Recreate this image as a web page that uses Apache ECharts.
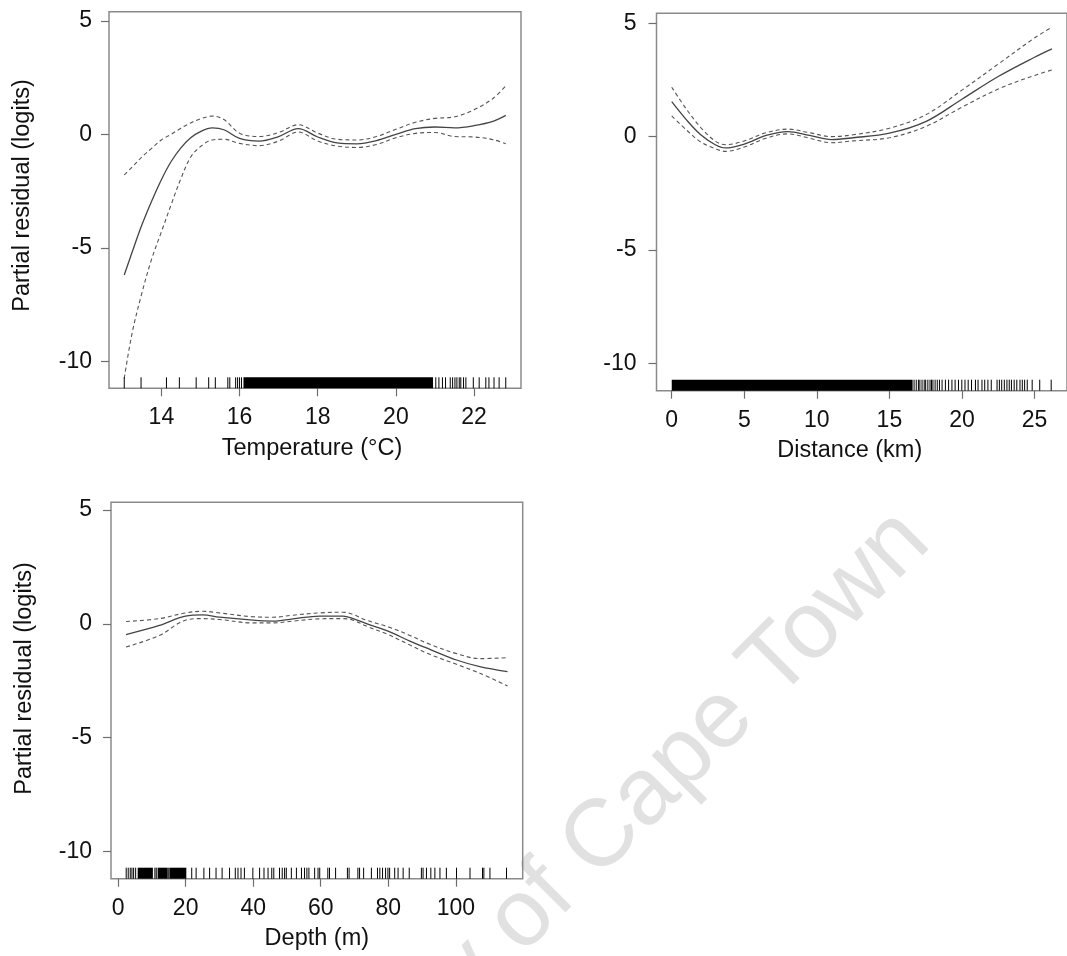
<!DOCTYPE html>
<html><head><meta charset="utf-8">
<script src="https://cdn.jsdelivr.net/npm/echarts@6/dist/echarts.min.js"></script>
<style>html,body{margin:0;padding:0;background:#fff}#chart{width:1067px;height:956px}</style>
</head><body><div id="chart"></div>
<script>
// ---------- Panel 1: Temperature ----------
const tempX     = [13.05, 13.25, 13.5, 13.75, 14.0, 14.25, 14.5, 14.75, 15.0, 15.3, 15.6, 16.0, 16.5, 17.0, 17.5, 18.0, 18.5, 19.0, 19.5, 20.0, 20.5, 21.0, 21.5, 22.0, 22.5, 22.81];
const tempFit   = [-6.2, -5.2, -4.0, -2.95, -2.0, -1.2, -0.6, -0.15, 0.12, 0.28, 0.2, -0.18, -0.3, -0.1, 0.25, -0.12, -0.38, -0.42, -0.28, 0.0, 0.25, 0.32, 0.28, 0.38, 0.58, 0.83];
const tempUpper = [-1.79, -1.45, -1.0, -0.62, -0.25, 0.0, 0.27, 0.5, 0.68, 0.8, 0.65, 0.05, -0.1, 0.08, 0.42, 0.05, -0.22, -0.25, -0.1, 0.22, 0.53, 0.7, 0.77, 1.08, 1.6, 2.14];
const tempLower = [-10.75, -8.77, -7.0, -5.5, -4.3, -3.1, -1.95, -1.0, -0.54, -0.25, -0.22, -0.4, -0.5, -0.3, 0.1, -0.3, -0.52, -0.58, -0.45, -0.15, 0.04, 0.08, -0.1, -0.12, -0.24, -0.42];
const tempRugTicks = [13.05, 13.48, 14.13, 14.46, 14.89, 15.21, 15.38, 15.7, 15.75, 15.9, 15.95, 16.0, 16.05, 21.02, 21.1, 21.19, 21.27, 21.39, 21.45, 21.51, 21.56, 21.62, 21.66, 21.73, 21.79, 21.98, 22.13, 22.3, 22.38, 22.51, 22.64, 22.81];
const tempRugBands = [[16.1, 20.95]];
const tempTicks = [14, 16, 18, 20, 22];

// ---------- Panel 2: Distance ----------
const distX     = [0, 1, 2, 3, 3.7, 5, 6.5, 8, 9.5, 11, 12.5, 15, 17.5, 20, 22.5, 25, 26.2];
const distFit   = [1.54, 0.75, 0.08, -0.36, -0.5, -0.33, 0.05, 0.22, 0.05, -0.13, -0.05, 0.15, 0.66, 1.65, 2.65, 3.5, 3.87];
const distUpper = [2.18, 1.22, 0.4, -0.2, -0.36, -0.19, 0.17, 0.33, 0.17, 0.0, 0.08, 0.37, 0.96, 2.05, 3.2, 4.35, 4.83];
const distLower = [0.91, 0.3, -0.24, -0.53, -0.65, -0.46, -0.07, 0.12, -0.07, -0.27, -0.19, -0.05, 0.44, 1.3, 2.1, 2.7, 2.94];
const distRugTicks = [16.7, 16.85, 17.0, 17.1, 17.25, 17.4, 17.5, 17.65, 17.8, 17.9, 18.0, 18.15, 18.3, 18.45, 18.63, 18.86, 19.08, 19.31, 19.53, 19.76, 19.99, 20.21, 20.43, 20.66, 20.93, 21.11, 21.38, 21.57, 21.79, 22.02, 22.42, 22.58, 22.74, 22.92, 23.10, 23.26, 23.41, 23.6, 23.78, 24.0, 24.16, 24.32, 24.5, 24.84, 25.36, 26.15];
const distRugBands = [[0, 16.6]];
const distTicks = [0, 5, 10, 15, 20, 25];

// ---------- Panel 3: Depth ----------
const depthX     = [2.36, 12.24, 19.95, 25.1, 30.0, 39.9, 45.8, 51.8, 59.7, 66.6, 69.6, 73.5, 79.9, 86.4, 92.3, 100.2, 107.1, 115.3];
const depthFit   = [-0.47, -0.07, 0.34, 0.39, 0.29, 0.16, 0.12, 0.22, 0.34, 0.34, 0.23, 0.01, -0.32, -0.76, -1.12, -1.59, -1.88, -2.10];
const depthUpper = [0.10, 0.23, 0.48, 0.55, 0.48, 0.31, 0.29, 0.38, 0.48, 0.51, 0.41, 0.16, -0.13, -0.51, -0.9, -1.31, -1.53, -1.49];
const depthLower = [-1.02, -0.51, 0.16, 0.23, 0.19, 0.04, 0.04, 0.12, 0.22, 0.23, 0.16, -0.10, -0.47, -0.93, -1.34, -1.78, -2.17, -2.73];
const depthRugTicks = [2.4, 3.0, 3.6, 4.1, 4.6, 5.2, 10.9, 11.3, 15.0, 21.8, 23.1, 25.4, 27.1, 29.0, 30.8, 33.0, 34.7, 35.5, 36.4, 37.4, 39.9, 41.9, 43.2, 44.4, 45.5, 46.1, 47.8, 48.6, 49.3, 49.8, 51.3, 52.8, 54.3, 55.2, 55.9, 56.5, 58.2, 59.2, 59.7, 62.1, 62.6, 64.4, 67.9, 68.4, 71.0, 71.5, 72.7, 75.0, 76.8, 77.5, 78.3, 79.2, 79.9, 80.4, 81.9, 82.9, 84.4, 86.2, 89.8, 90.3, 91.3, 92.6, 93.8, 95.3, 97.2, 100.2, 104.2, 107.9, 108.3, 110.1, 115.0];
const depthRugBands = [[5.8, 10.3], [11.7, 14.7], [15.2, 20.2]];
const depthTicks = [0, 20, 40, 60, 80, 100];

const yTicks = [-10, -5, 0, 5];
const xTitles = ['Temperature (°C)', 'Distance (km)', 'Depth (m)'];
const yTitle = 'Partial residual (logits)';
const watermark = 'University of Cape Town';

// ---------- styling / layout ----------
const FONT = '"Liberation Sans", Arial, Helvetica, sans-serif';
const FS = 23;
const FS_T = 23.5;
const RUG_H = 11;
const panels = [
  {grid:{left:109, top:11.7, width:412, height:376.6}, xr:[12.66, 23.2], yr:[-11.19, 5.40], xt:tempTicks, ym:17, yTitle:true, yPad:[0,0,0,9],
   x:tempX, fit:tempFit, up:tempUpper, lo:tempLower, ticks:tempRugTicks, bands:tempRugBands, namePad:[0,6,0,0]},
  {grid:{left:656.5, top:13.3, width:417.3, height:377.4}, xr:[-1.05, 27.24], yr:[-11.21, 5.44], xt:distTicks, ym:20, yTitle:false, yPad:[0,0,0,0],
   x:distX, fit:distFit, up:distUpper, lo:distLower, ticks:distRugTicks, bands:distRugBands, namePad:[0,24,0,0]},
  {grid:{left:111, top:502.3, width:411.7, height:376.4}, xr:[-2.1, 119.8], yr:[-11.2, 5.34], xt:depthTicks, ym:19, yTitle:true, yPad:[0,0,0,24],
   x:depthX, fit:depthFit, up:depthUpper, lo:depthLower, ticks:depthRugTicks, bands:depthRugBands, namePad:[0,0,0,0]}
];

const grids = [], xAxes = [], yAxes = [], series = [];
const zip = (xs, ys) => xs.map((v, i) => [v, ys[i]]);
panels.forEach((p, i) => {
  grids.push(Object.assign({show:true, borderColor:'#8a8a8a', borderWidth:1.5, backgroundColor:'transparent', containLabel:false}, p.grid));
  xAxes.push({
    type:'value', gridIndex:i, min:p.xr[0], max:p.xr[1], position:'bottom',
    axisLine:{show:false, onZero:false}, splitLine:{show:false},
    axisTick:{show:true, length:8, customValues:p.xt, lineStyle:{color:'#6e6e6e', width:1.2}},
    axisLabel:{customValues:p.xt, margin:18, fontSize:FS, color:'#111', fontFamily:FONT},
    name:xTitles[i], nameLocation:'middle', nameGap:48,
    nameTextStyle:{fontSize:FS_T, color:'#111', fontFamily:FONT, padding:p.namePad}
  });
  yAxes.push({
    type:'value', gridIndex:i, min:p.yr[0], max:p.yr[1], position:'left',
    axisLine:{show:false, onZero:false}, splitLine:{show:false},
    axisTick:{show:true, length:8, customValues:yTicks, lineStyle:{color:'#6e6e6e', width:1.2}},
    axisLabel:{customValues:yTicks, margin:p.ym, fontSize:FS, color:'#111', fontFamily:FONT},
    name:p.yTitle ? yTitle : '', nameLocation:'middle', nameGap:74,
    nameTextStyle:{fontSize:FS_T, color:'#111', fontFamily:FONT, padding:p.yPad}
  });
  const lineBase = {type:'line', xAxisIndex:i, yAxisIndex:i, symbol:'none', smooth:0.35, silent:true, z:3};
  series.push(Object.assign({}, lineBase, {name:'fit'+i, data:zip(p.x, p.fit), lineStyle:{color:'#444', width:1.3, type:'solid'}}));
  series.push(Object.assign({}, lineBase, {name:'upper'+i, data:zip(p.x, p.up), lineStyle:{color:'#555', width:1.1, type:[4,3]}}));
  series.push(Object.assign({}, lineBase, {name:'lower'+i, data:zip(p.x, p.lo), lineStyle:{color:'#555', width:1.1, type:[4,3]}}));
  series.push({
    type:'custom', name:'rug'+i, xAxisIndex:i, yAxisIndex:i, silent:true, z:4,
    data:p.ticks.map(v => [v, 0]), encode:{x:0, y:1},
    renderItem:(params, api) => {
      const x = api.coord([api.value(0), 0])[0];
      const cs = params.coordSys; const yb = cs.y + cs.height;
      return {type:'line', shape:{x1:x, y1:yb, x2:x, y2:yb - RUG_H}, style:{stroke:'#000', lineWidth:1}};
    }
  });
  series.push({
    type:'custom', name:'rugband'+i, xAxisIndex:i, yAxisIndex:i, silent:true, z:4,
    data:p.bands.map(b => [b[0], b[1], 0]), encode:{x:[0,1], y:2},
    renderItem:(params, api) => {
      const x0 = api.coord([api.value(0), 0])[0];
      const x1 = api.coord([api.value(1), 0])[0];
      const cs = params.coordSys; const yb = cs.y + cs.height;
      return {type:'rect', shape:{x:x0, y:yb - RUG_H, width:x1 - x0, height:RUG_H}, style:{fill:'#000'}};
    }
  });
});

const chart = echarts.init(document.getElementById('chart'), null, {renderer:'canvas'});
chart.setOption({
  backgroundColor:'#fff',
  animation:false,
  textStyle:{fontFamily:FONT},
  grid:grids, xAxis:xAxes, yAxis:yAxes, series:series,
  graphic:[{
    type:'text', x:948, y:560, rotation:Math.PI/4, z:-1, silent:true,
    style:{text:watermark, font:'95px ' + FONT, fill:'#e1e1e1', align:'right', verticalAlign:'bottom'}
  }]
});
</script></body></html>
